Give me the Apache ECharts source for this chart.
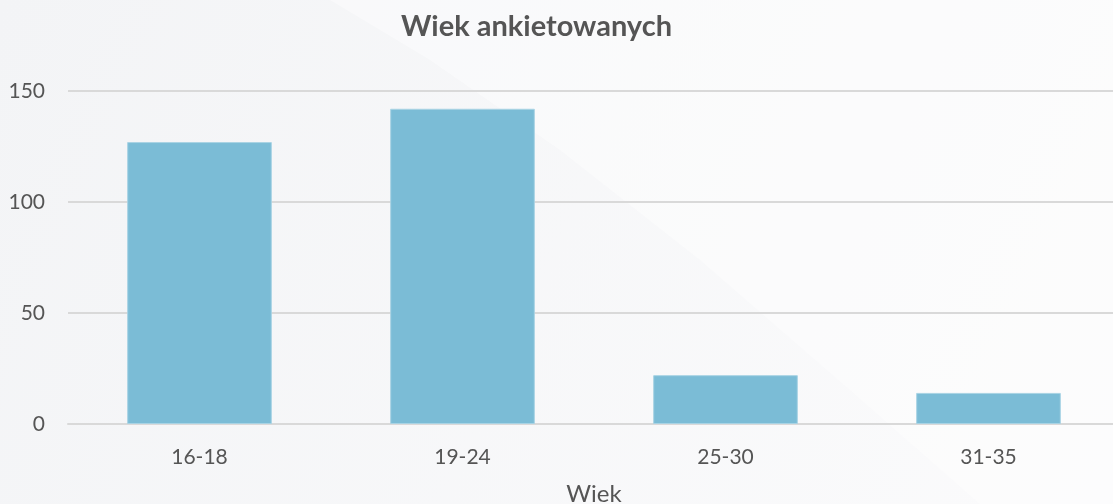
<!DOCTYPE html>
<html>
<head>
<meta charset="utf-8">
<script src="https://cdn.jsdelivr.net/npm/echarts@6/dist/echarts.min.js"></script>
<style>
  html, body { margin: 0; padding: 0; }
  #chart { width: 1113px; height: 504px; }
</style>
</head>
<body>
<div id="chart"></div>
<script>
// dane z wykresu
const ageGroups = ['16-18', '19-24', '25-30', '31-35'];
const counts = [127, 142, 22, 14];
const yTicks = [0, 50, 100, 150];

const chart = echarts.init(document.getElementById('chart'));

const option = {
  backgroundColor: {
    type: 'linear', x: 0, y: 0, x2: 1, y2: 1,
    colorStops: [
      { offset: 0, color: '#f3f4f6' },
      { offset: 1, color: '#fbfbfc' }
    ]
  },
  graphic: [
    {
      // jaśniejszy łuk w tle
      type: 'polygon',
      silent: true,
      z: -10,
      shape: {
        points: [[330, 0], [430, 60], [560, 150], [700, 260], [850, 390], [980, 504], [1113, 504], [1113, 0]]
      },
      style: { fill: 'rgba(255,255,255,0.4)' }
    }
  ],
  title: {
    text: 'Wiek ankietowanych',
    left: 396,
    top: 7,
    textStyle: {
      fontFamily: 'Lato',
      fontWeight: 'bold',
      fontSize: 29,
      color: '#555555'
    }
  },
  grid: {
    left: 68,
    right: -7,
    top: 91,
    bottom: 80,
    containLabel: false,
    outerBoundsMode: 'none'
  },
  xAxis: {
    type: 'category',
    data: ageGroups,
    name: 'Wiek',
    nameLocation: 'middle',
    nameGap: 58,
    nameTextStyle: { fontFamily: 'Lato', fontSize: 24, color: '#555555' },
    axisTick: { show: false },
    axisLine: { lineStyle: { color: '#d9d9d9', width: 2 } },
    axisLabel: { fontFamily: 'Lato', fontSize: 21, color: '#555555', margin: 23 }
  },
  yAxis: {
    type: 'value',
    min: yTicks[0],
    max: yTicks[yTicks.length - 1],
    interval: 50,
    axisLine: { show: false },
    axisTick: { show: false },
    axisLabel: { fontFamily: 'Lato', fontSize: 21, color: '#555555', margin: 23 },
    splitLine: { lineStyle: { color: '#d9d9d9', width: 2 } }
  },
  series: [
    {
      type: 'bar',
      data: counts,
      barWidth: '55%',
      itemStyle: {
        color: '#7bbcd6',
        borderColor: '#a9d3e4',
        borderWidth: 1
      }
    }
  ]
};

chart.setOption(option);
</script>
</body>
</html>
